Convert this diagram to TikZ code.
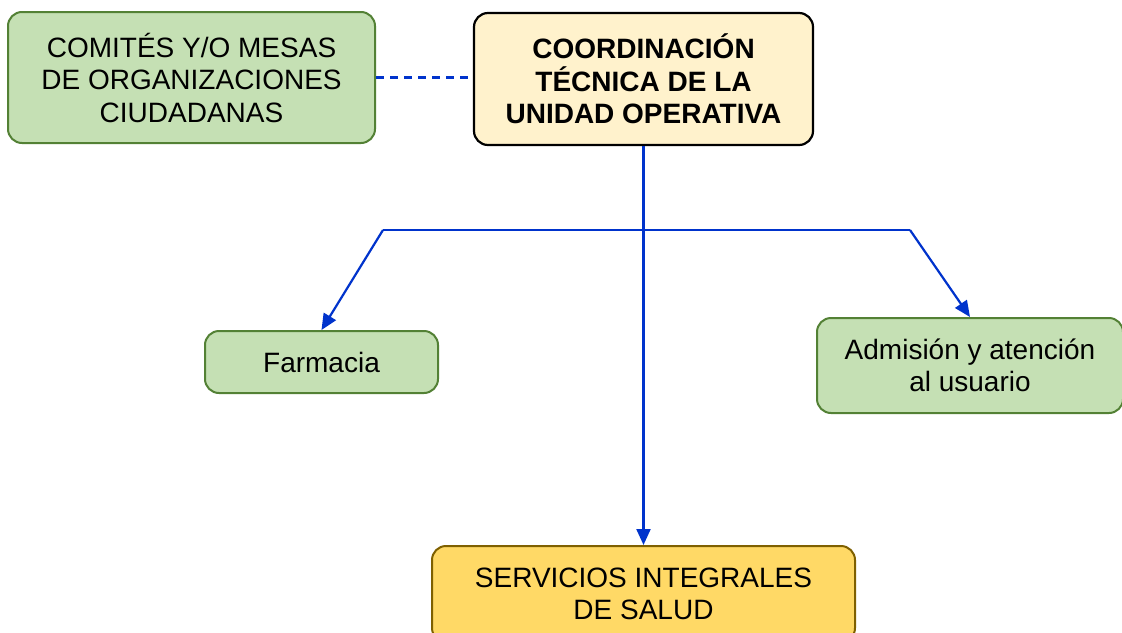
\documentclass[tikz,border=0pt]{standalone}
\usepackage{fontspec}
\setmainfont{Liberation Sans}
\usetikzlibrary{arrows.meta}
\definecolor{gfill}{HTML}{C5E0B4}
\definecolor{gdraw}{HTML}{538135}
\definecolor{cfill}{HTML}{FFF2CC}
\definecolor{yfill}{HTML}{FFD966}
\definecolor{ydraw}{HTML}{7F6000}
\definecolor{blu}{HTML}{0033CC}
\tikzset{
  box/.style={rounded corners=14pt, line width=2pt, align=center, inner sep=0pt,
    font=\fontsize{28}{32.5}\selectfont},
  greenbox/.style={box, fill=gfill, draw=gdraw},
  coordbox/.style={box, fill=cfill, draw=black, line width=2.2pt, font=\fontsize{28}{32.5}\selectfont\bfseries},
  yellowbox/.style={box, fill=yfill, draw=ydraw},
  conn/.style={draw=blu, line width=2.2pt},
  arr/.style={conn, -{Triangle[length=16pt,width=14pt]}},
}
\begin{document}
\begin{tikzpicture}[x=1pt,y=-1pt]
\useasboundingbox (0,0) rectangle (1122,632);
\fill[white] (0,0) rectangle (1122,632);
\node[greenbox, minimum width=367pt, minimum height=131pt] (comites) at (191.5,77.5)
  {COMITÉS Y/O MESAS\\DE ORGANIZACIONES\\CIUDADANAS};
\node[coordbox, minimum width=339pt, minimum height=132pt] (coord) at (643.5,79)
  {COORDINACIÓN\\TÉCNICA DE LA\\UNIDAD OPERATIVA};
\node[greenbox, minimum width=233pt, minimum height=62pt] (farm) at (321.5,362)
  {Farmacia};
\node[greenbox, minimum width=306pt, minimum height=95pt] (adm) at (970,365.5)
  {Admisión y atención\\al usuario};
\node[yellowbox, minimum width=423pt, minimum height=96pt, anchor=north] (serv) at (643.5,545)
  {SERVICIOS INTEGRALES\\DE SALUD};
\coordinate (bl) at (383,230);
\coordinate (br) at (910,230);
\draw[conn, dash pattern=on 8pt off 6pt] (comites.east) -- (coord.west |- comites.east);
\draw[arr] (coord.south) -- (serv.north);
\draw[conn] (bl) -- (br);
\draw[arr] (bl) -- (farm.north);
\draw[arr] (br) -- (adm.north);
\end{tikzpicture}
\end{document}
